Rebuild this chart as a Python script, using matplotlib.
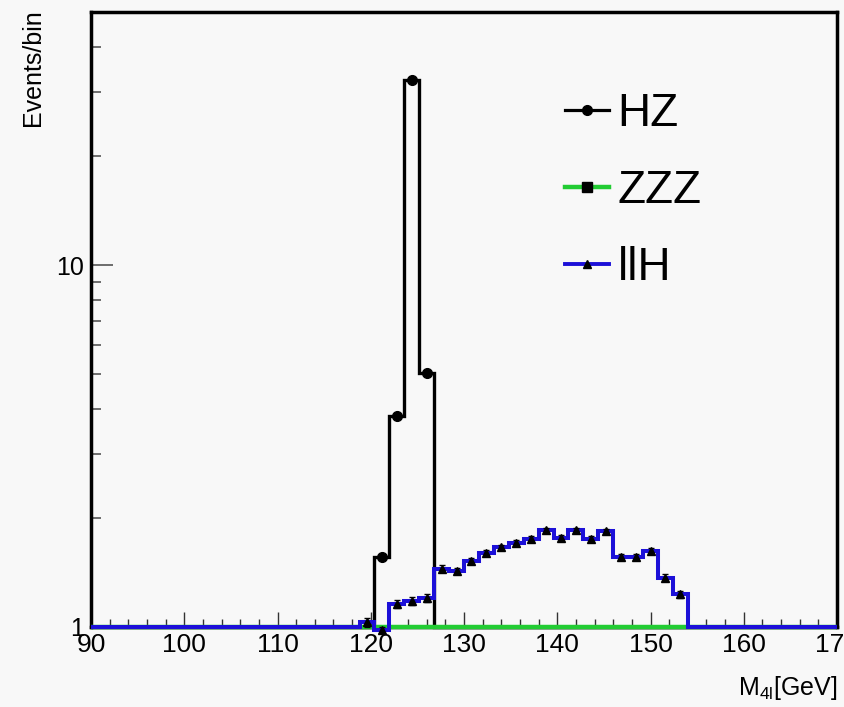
import numpy as np
import matplotlib
matplotlib.use('Agg')
import matplotlib.pyplot as plt
from matplotlib.ticker import MultipleLocator, LogLocator, FixedLocator, NullFormatter
from matplotlib.lines import Line2D

plt.rcParams['font.family'] = ['Liberation Sans', 'DejaVu Sans']
plt.rcParams['mathtext.fontset'] = 'custom'
plt.rcParams['mathtext.rm'] = 'Liberation Sans'

# 50 bins of 1.6 GeV from 90 to 170
edges = np.linspace(90, 170, 51)

# non-zero bins (bin index -> events)
hz_bins = [19, 20, 21, 22]
hz_vals = [1.56, 3.83, 32.5, 5.03]

llh_bins = list(range(18, 40))
llh_vals = [1.03, 0.98, 1.16, 1.18, 1.20, 1.45, 1.43, 1.52, 1.60, 1.66, 1.71,
            1.75, 1.85, 1.76, 1.85, 1.75, 1.84, 1.56, 1.56, 1.62, 1.37, 1.23]
llh_errs = [0.03, 0.02, 0.03, 0.03, 0.03, 0.03, 0.03, 0.03, 0.03, 0.03, 0.03,
            0.03, 0.03, 0.03, 0.03, 0.03, 0.03, 0.03, 0.03, 0.03, 0.03, 0.03]

zzz_vals = np.zeros(50)

labels = ["HZ", "ZZZ", "llH"]

blue = '#1c10d8'
green = '#22cc33'
bg = '#f8f8f8'


def fill(bins, vals):
    h = np.zeros(50)
    h[bins] = vals
    return h


hz = fill(hz_bins, hz_vals)
llh = fill(llh_bins, llh_vals)
centers = 0.5 * (edges[:-1] + edges[1:])

fig = plt.figure(figsize=(8.44, 7.07), dpi=100, facecolor=bg)
ax = fig.add_axes([91 / 844, 1 - 627 / 707, (837 - 91) / 844, (627 - 12) / 707])
ax.set_facecolor(bg)
ax.set_yscale('log')

# empty bins are drawn on the bottom of the frame, as ROOT does
ax.stairs(np.where(hz > 0, hz, 1.0), edges, baseline=None, color='black', lw=2.4,
          zorder=3, clip_on=False)
ax.stairs(np.where(zzz_vals > 0, zzz_vals, 1.0), edges, baseline=None, color=green, lw=3.2,
          zorder=3.1, clip_on=False)
ax.stairs(np.where(llh > 0, llh, 1.0), edges, baseline=None, color=blue, lw=2.9,
          zorder=3.2, clip_on=False)

ax.plot(centers[hz_bins], hz_vals, 'o', color='black', ms=7, zorder=4, clip_on=False)
ax.errorbar(centers[llh_bins], llh_vals, yerr=llh_errs, fmt='^', color='black',
            ms=6, lw=1, capsize=2, zorder=4, clip_on=False)

ax.set_xlim(90, 170)
ax.set_ylim(1, 50)

ax.xaxis.set_major_locator(MultipleLocator(10))
ax.xaxis.set_minor_locator(MultipleLocator(2))
ax.yaxis.set_major_locator(FixedLocator([1, 10]))
ax.yaxis.set_minor_locator(LogLocator(base=10, subs=np.arange(2, 10)))
ax.yaxis.set_minor_formatter(NullFormatter())
ax.set_yticklabels(['1', '10'])

ax.tick_params(axis='x', which='major', direction='in', length=11, width=1, color='#333333',
               labelsize=19, pad=4, top=False)
ax.tick_params(axis='x', which='minor', direction='in', length=5.5, width=1, color='#333333', top=False)
ax.tick_params(axis='y', which='major', direction='in', length=16, width=1.2, color='#555555',
               labelsize=18, pad=5, right=False)
ax.tick_params(axis='y', which='minor', direction='in', length=7, width=1.2, color='#555555', right=False)

for s in ax.spines.values():
    s.set_linewidth(2.5)
    s.set_color('black')

fig.text(0.039, 0.987, 'Events/bin', rotation=90, ha='center', va='top', fontsize=18)
fig.text(837 / 844, 1 - 702 / 707, r'M$_{\mathregular{4l}}$[GeV]', ha='right', va='bottom', fontsize=18)

handles = [
    Line2D([], [], color='black', lw=2.3, marker='o', ms=7, mfc='black', mec='black'),
    Line2D([], [], color=green, lw=3.2, marker='s', ms=7, mfc='black', mec='black'),
    Line2D([], [], color=blue, lw=2.8, marker='^', ms=6, mfc='black', mec='black'),
]
fig.legend(handles, labels, loc='upper left', bbox_to_anchor=(565 / 844, 1 - 92 / 707),
           frameon=False, fontsize=33, handlelength=0.95, handletextpad=0.2,
           labelspacing=0.72, borderpad=0, borderaxespad=0)

fig.savefig('out.png', dpi=100, facecolor=bg)
